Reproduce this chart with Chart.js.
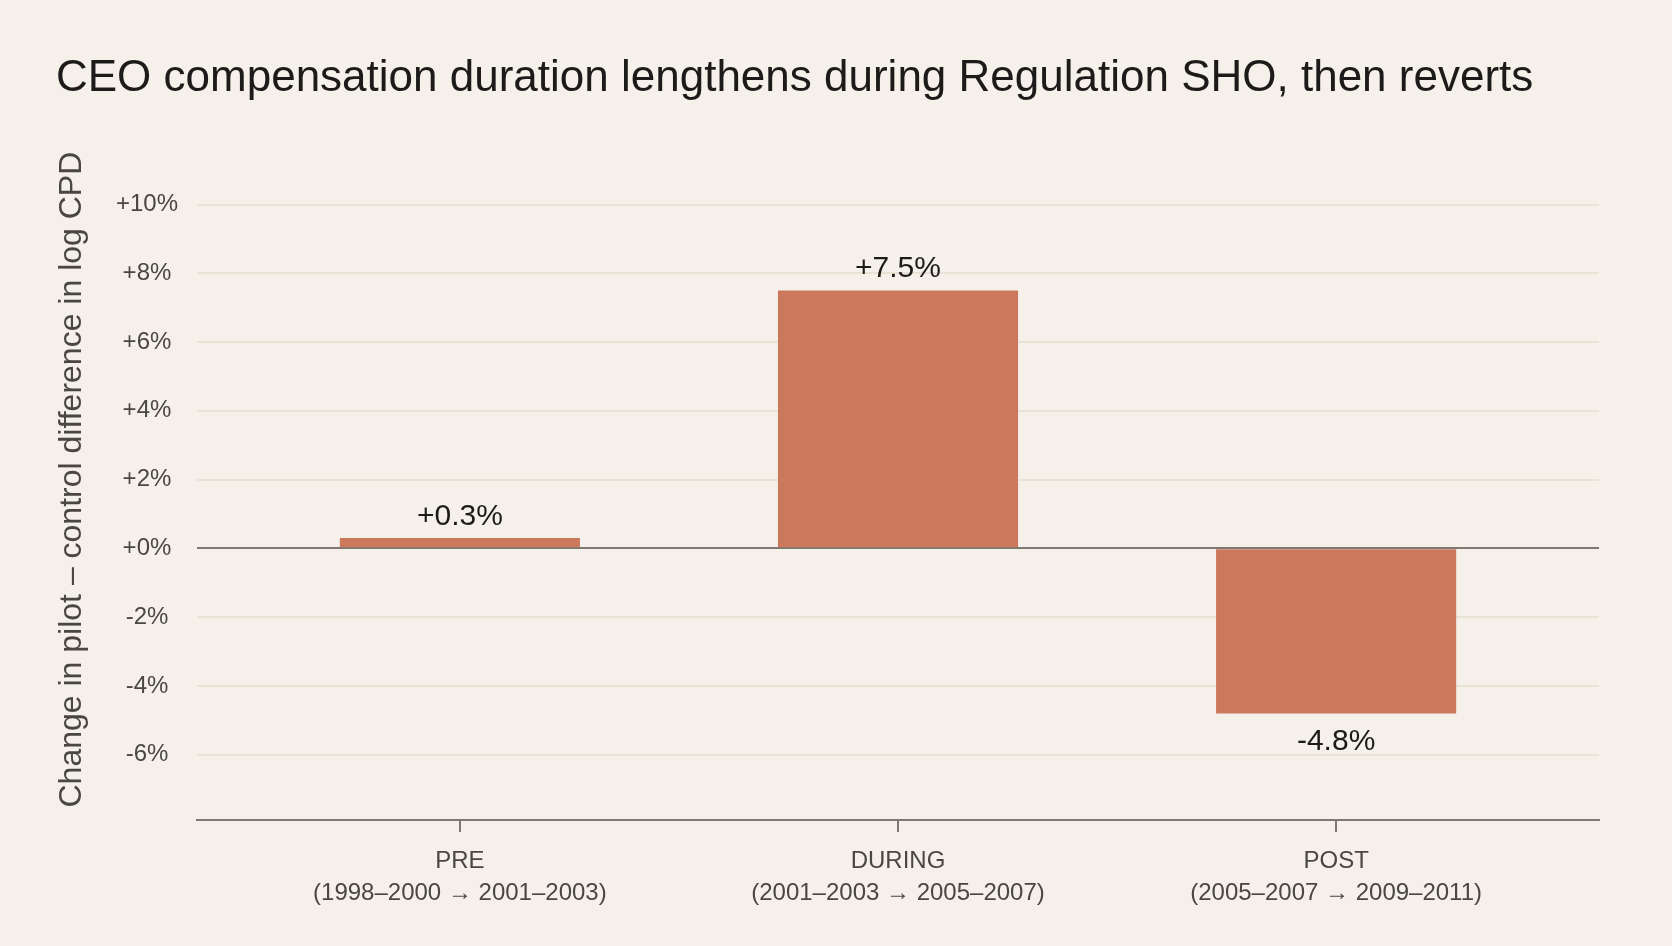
<!DOCTYPE html>
<html>
<head>
<meta charset="utf-8">
<script src="https://cdn.jsdelivr.net/npm/chart.js@4.4.1/dist/chart.umd.min.js"></script>
<style>
  html, body { margin: 0; padding: 0; background: #f5f1ea; }
  #wrap { width: 1672px; height: 946px; }
</style>
</head>
<body>
<div id="wrap"><canvas id="shoChart" width="1672" height="946"></canvas></div>
<script>
// Data
const periods = ['PRE', 'DURING', 'POST'];
const windows = ['(1998–2000 → 2001–2003)', '(2001–2003 → 2005–2007)', '(2005–2007 → 2009–2011)'];
const changes = [0.3, 7.5, -4.8];
const yTicks = [-6, -4, -2, 0, 2, 4, 6, 8, 10];

const FONT = "'Liberation Sans', Arial, Helvetica, sans-serif";
const INK = '#1c1b19';
const MUTED = '#4a4640';
const AXIS = '#7d7971';
const GRID = '#e8e3d4';
const BAR = '#cc785c';

function fmtPct(v, digits) {
  const s = digits ? v.toFixed(digits) : String(v);
  return (v >= 0 ? '+' : '') + s + '%';
}

// value labels above / below each bar
const valueLabels = {
  id: 'valueLabels',
  afterDatasetsDraw(chart) {
    const ctx = chart.ctx;
    const meta = chart.getDatasetMeta(0);
    ctx.save();
    ctx.font = '30px ' + FONT;
    ctx.fillStyle = INK;
    ctx.textAlign = 'center';
    ctx.textBaseline = 'alphabetic';
    meta.data.forEach((bar, i) => {
      const v = changes[i];
      const txt = fmtPct(v, 1);
      if (v >= 0) ctx.fillText(txt, bar.x, bar.y - 13);
      else ctx.fillText(txt, bar.x, bar.y + 37);
    });
    ctx.restore();
  }
};

new Chart(document.getElementById('shoChart'), {
  type: 'bar',
  data: {
    datasets: [{
      data: changes.map((v, i) => ({ x: i, y: v })),
      backgroundColor: BAR,
      borderWidth: 0,
      categoryPercentage: 1,
      barPercentage: 0.548
    }]
  },
  options: {
    responsive: false,
    animation: false,
    devicePixelRatio: 1,
    layout: { padding: { left: 56, right: 73, top: 0, bottom: 0 } },
    plugins: {
      legend: { display: false },
      tooltip: { enabled: false },
      title: {
        display: true,
        text: 'CEO compensation duration lengthens during Regulation SHO, then reverts',
        align: 'start',
        color: INK,
        font: { family: FONT, size: 44, weight: 'normal' },
        padding: { top: 52.5, bottom: 33.9 }
      }
    },
    scales: {
      x: {
        type: 'linear',
        min: -0.6,
        max: 2.6,
        offset: false,
        afterBuildTicks: (scale) => { scale.ticks = periods.map((p, i) => ({ value: i })); },
        afterFit: (scale) => { scale.height = 126; },
        ticks: {
          callback: (value) => [periods[value], windows[value]],
          color: MUTED,
          font: { family: FONT, size: 24, lineHeight: 1.35 },
          padding: 13,
          maxRotation: 0,
          autoSkip: false
        },
        grid: { offset: false, drawOnChartArea: false, drawTicks: true, tickLength: 12, color: AXIS, lineWidth: 2 },
        border: { display: true, color: AXIS, width: 2 }
      },
      y: {
        min: -7.9,
        max: 11.9,
        afterBuildTicks: (scale) => { scale.ticks = yTicks.map(v => ({ value: v })); },
        afterFit: (scale) => { scale.width = 141; },
        ticks: {
          callback: (value) => fmtPct(value),
          color: MUTED,
          font: { family: FONT, size: 24 },
          padding: 19,
          crossAlign: 'center'
        },
        grid: {
          color: (ctx) => ctx.tick && ctx.tick.value === 0 ? AXIS : GRID,
          lineWidth: 2,
          drawTicks: false
        },
        border: { display: false },
        title: {
          display: true,
          text: 'Change in pilot – control difference in log CPD',
          color: MUTED,
          font: { family: FONT, size: 32, weight: 'normal' },
          padding: { top: -3, bottom: 0 }
        }
      }
    }
  },
  plugins: [valueLabels]
});
</script>
</body>
</html>
